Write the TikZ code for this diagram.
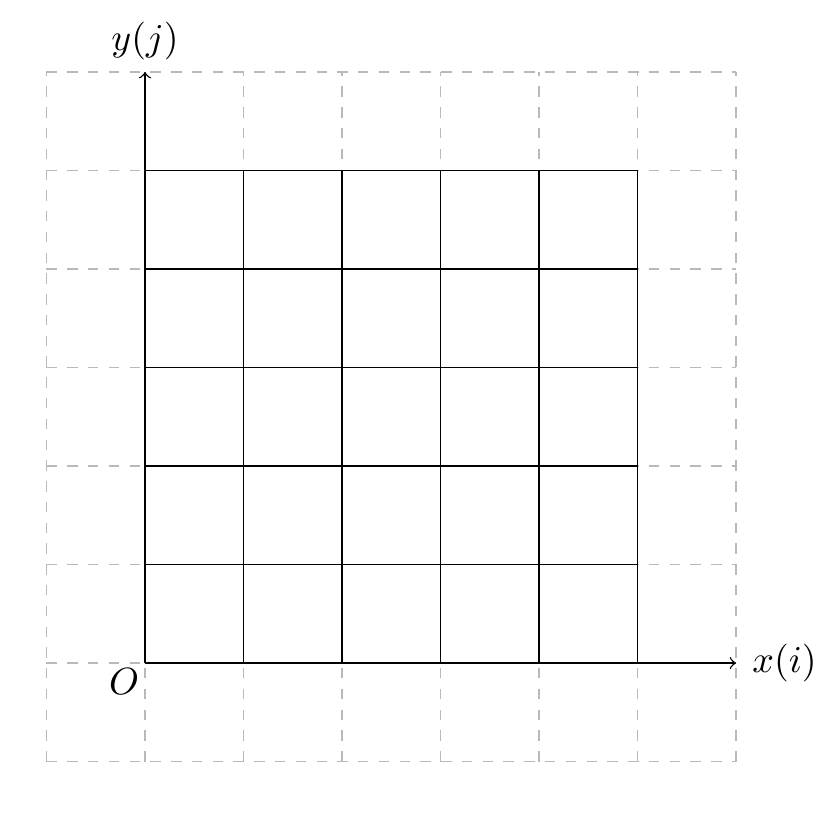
\documentclass[tikz,border=0pt]{standalone}
\begin{document}
\begin{tikzpicture}[
  font=\fontsize{10.5}{12.6}\selectfont,
  helpgrid/.style={dashed,gray!55,thin},
  maingrid/.style={black,thin},
  axis/.style={->,black,thin}]
\useasboundingbox (-1.472,-1.533) rectangle (6.954,6.731);
\draw[helpgrid] (-1,-1) grid (6,6);
\draw[maingrid] (0,0) grid (5,5);
\coordinate (o) at (0,0);
\coordinate (xe) at (6,0);
\coordinate (ye) at (0,6);
\draw[axis] (o) -- (xe);
\draw[axis] (o) -- (ye);
\node[right,xshift=1.2pt] (xl) at (xe) {$x(i)$};
\node[above] (yl) at (ye) {$y(j)$};
\node[below left,inner sep=1.5pt] (ol) at (o) {$O$};
\end{tikzpicture}
\end{document}
